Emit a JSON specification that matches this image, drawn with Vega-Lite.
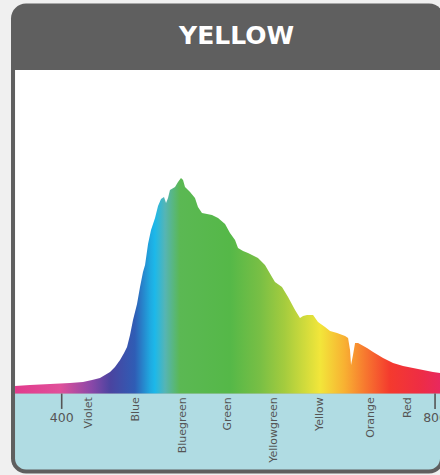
{
  "$schema": "https://vega.github.io/schema/vega-lite/v6.json",
  "width": 429,
  "height": 472,
  "autosize": {"type": "none"},
  "padding": {"left": 11, "top": 3, "right": 0, "bottom": 0},
  "background": "#f0f0f0",
  "config": {"view": {"stroke": null}},
  "datasets": {
    "spectrum": [
      {"nm": 350.0, "v": 2.34}, {"nm": 366.0, "v": 2.65}, {"nm": 387.5, "v": 2.95}, {"nm": 408.9, "v": 3.26},
      {"nm": 422.8, "v": 3.57}, {"nm": 432.5, "v": 4.18}, {"nm": 441.0, "v": 4.8}, {"nm": 446.4, "v": 5.72},
      {"nm": 451.8, "v": 6.64}, {"nm": 457.1, "v": 8.18}, {"nm": 462.5, "v": 10.33}, {"nm": 466.8, "v": 12.48},
      {"nm": 470.0, "v": 14.32}, {"nm": 473.2, "v": 18.01}, {"nm": 476.4, "v": 22.62}, {"nm": 480.7, "v": 27.53},
      {"nm": 483.9, "v": 32.75}, {"nm": 487.1, "v": 37.36}, {"nm": 489.3, "v": 39.51}, {"nm": 492.5, "v": 45.96},
      {"nm": 495.7, "v": 50.26}, {"nm": 500.0, "v": 53.95}, {"nm": 503.2, "v": 57.64}, {"nm": 506.4, "v": 59.79},
      {"nm": 509.6, "v": 60.4}, {"nm": 511.8, "v": 58.56}, {"nm": 513.9, "v": 60.09}, {"nm": 516.0, "v": 62.55},
      {"nm": 521.4, "v": 63.47}, {"nm": 524.6, "v": 65.01}, {"nm": 527.8, "v": 66.24}, {"nm": 530.0, "v": 65.62},
      {"nm": 532.1, "v": 63.47}, {"nm": 537.5, "v": 61.94}, {"nm": 542.8, "v": 60.09}, {"nm": 546.0, "v": 57.33},
      {"nm": 550.3, "v": 55.49}, {"nm": 555.7, "v": 55.18}, {"nm": 561.0, "v": 54.87}, {"nm": 567.5, "v": 53.95},
      {"nm": 575.0, "v": 52.11}, {"nm": 580.3, "v": 49.34}, {"nm": 585.7, "v": 47.19}, {"nm": 588.9, "v": 44.73},
      {"nm": 594.3, "v": 43.81}, {"nm": 599.6, "v": 43.2}, {"nm": 610.3, "v": 41.66}, {"nm": 617.8, "v": 39.51},
      {"nm": 625.3, "v": 35.83}, {"nm": 628.5, "v": 34.29}, {"nm": 636.0, "v": 32.75}, {"nm": 642.5, "v": 29.68},
      {"nm": 650.0, "v": 25.69}, {"nm": 655.3, "v": 23.23}, {"nm": 658.6, "v": 23.84}, {"nm": 662.8, "v": 24.15},
      {"nm": 669.3, "v": 24.15}, {"nm": 674.6, "v": 22.0}, {"nm": 682.1, "v": 20.47}, {"nm": 687.5, "v": 19.24},
      {"nm": 695.0, "v": 18.62}, {"nm": 703.6, "v": 17.7}, {"nm": 706.8, "v": 17.09}, {"nm": 708.9, "v": 13.4},
      {"nm": 710.0, "v": 8.79}, {"nm": 712.1, "v": 11.86}, {"nm": 714.3, "v": 15.55}, {"nm": 717.5, "v": 15.55},
      {"nm": 727.1, "v": 14.01}, {"nm": 733.6, "v": 12.79}, {"nm": 744.3, "v": 10.94}, {"nm": 755.0, "v": 9.41},
      {"nm": 765.7, "v": 8.48}, {"nm": 776.4, "v": 7.87}, {"nm": 787.1, "v": 7.26}, {"nm": 797.8, "v": 6.64},
      {"nm": 805.3, "v": 6.33}
    ],
    "ticks": [{"nm": 400, "label": "400"}, {"nm": 800, "label": "800"}],
    "bands": [
      {"nm": 429.3, "label": "Violet"}, {"nm": 479.6, "label": "Blue"}, {"nm": 530.3, "label": "Bluegreen"},
      {"nm": 578.5, "label": "Green"}, {"nm": 627.5, "label": "Yellowgreen"}, {"nm": 676.8, "label": "Yellow"},
      {"nm": 731.1, "label": "Orange"}, {"nm": 771.4, "label": "Red"}
    ],
    "one": [{"title": "YELLOW"}]
  },
  "layer": [
    {
      "data": {"name": "one"},
      "mark": {"type": "rect", "fill": "#5f5f5f", "cornerRadius": 15},
      "encoding": {
        "x": {"datum": 345.68, "type": "quantitative", "scale": {"domain": [345.68, 805.3], "zero": false, "nice": false}, "axis": null},
        "x2": {"datum": 809.6},
        "y": {"datum": 119.85, "type": "quantitative", "scale": {"domain": [-25, 120], "zero": false, "nice": false}, "axis": null},
        "y2": {"datum": -24.54}
      }
    },
    {
      "data": {"name": "one"},
      "mark": {"type": "rect", "fill": "#ffffff"},
      "encoding": {
        "x": {"datum": 350.0, "type": "quantitative"},
        "x2": {"datum": 805.3},
        "y": {"datum": 99.42, "type": "quantitative"},
        "y2": {"datum": 0}
      }
    },
    {
      "data": {"name": "one"},
      "mark": {"type": "rect", "fill": "#b0dce3", "cornerRadiusBottomLeft": 11, "cornerRadiusBottomRight": 11},
      "encoding": {
        "x": {"datum": 350.0, "type": "quantitative"},
        "x2": {"datum": 805.3},
        "y": {"datum": 0, "type": "quantitative"},
        "y2": {"datum": -23.31}
      }
    },
    {
      "data": {"name": "spectrum"},
      "mark": {
        "type": "area",
        "fill": {
          "gradient": "linear", "x1": 0, "y1": 0, "x2": 1, "y2": 0,
          "stops": [
            {"offset": 0, "color": "#e23a8c"},
            {"offset": 0.106, "color": "#e0509a"},
            {"offset": 0.18, "color": "#8a48a8"},
            {"offset": 0.225, "color": "#4a44a0"},
            {"offset": 0.282, "color": "#2f5db5"},
            {"offset": 0.318, "color": "#1fa9e0"},
            {"offset": 0.329, "color": "#1cb8ea"},
            {"offset": 0.353, "color": "#55b5b5"},
            {"offset": 0.388, "color": "#5bb853"},
            {"offset": 0.506, "color": "#55b848"},
            {"offset": 0.576, "color": "#78bf45"},
            {"offset": 0.635, "color": "#a5cc3e"},
            {"offset": 0.718, "color": "#f2e63a"},
            {"offset": 0.776, "color": "#f8b032"},
            {"offset": 0.824, "color": "#f7782f"},
            {"offset": 0.882, "color": "#f43a2e"},
            {"offset": 0.953, "color": "#ee2d44"},
            {"offset": 1, "color": "#e8285e"}
          ]
        }
      },
      "encoding": {
        "x": {"field": "nm", "type": "quantitative"},
        "y": {"field": "v", "type": "quantitative"},
        "y2": {"datum": 0}
      }
    },
    {
      "data": {"name": "ticks"},
      "mark": {"type": "rule", "color": "#555555", "strokeWidth": 1.6},
      "encoding": {
        "x": {"field": "nm", "type": "quantitative"},
        "y": {"datum": 0, "type": "quantitative"},
        "y2": {"datum": -4.7}
      }
    },
    {
      "data": {"name": "ticks"},
      "mark": {"type": "text", "color": "#555555", "font": "DejaVu Sans", "fontSize": 12.5, "baseline": "middle", "align": "center"},
      "encoding": {
        "x": {"field": "nm", "type": "quantitative"},
        "y": {"datum": -7.6, "type": "quantitative"},
        "text": {"field": "label"}
      }
    },
    {
      "data": {"name": "bands"},
      "mark": {"type": "text", "color": "#555555", "font": "DejaVu Sans", "fontSize": 11, "angle": 270, "align": "right", "baseline": "middle"},
      "encoding": {
        "x": {"field": "nm", "type": "quantitative"},
        "y": {"datum": -1.1, "type": "quantitative"},
        "text": {"field": "label"}
      }
    },
    {
      "data": {"name": "one"},
      "mark": {"type": "text", "color": "#ffffff", "font": "DejaVu Sans", "fontWeight": "bold", "fontSize": 25, "align": "center", "baseline": "alphabetic"},
      "encoding": {
        "x": {"datum": 587.3, "type": "quantitative"},
        "y": {"datum": 107.5, "type": "quantitative"},
        "text": {"field": "title"}
      }
    }
  ]
}
